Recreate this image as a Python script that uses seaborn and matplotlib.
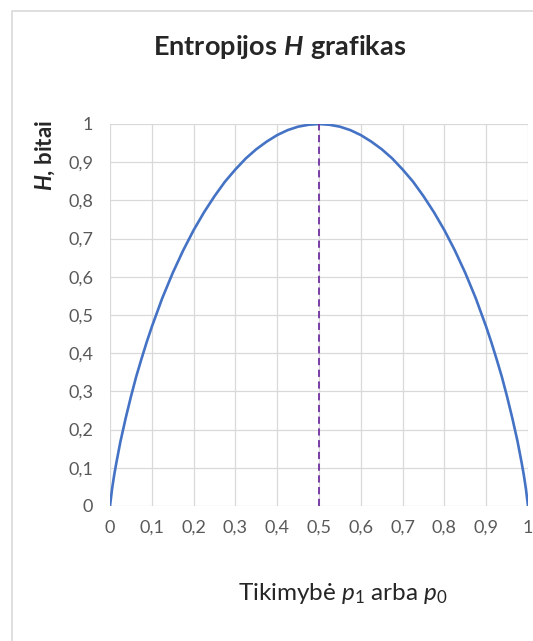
import matplotlib
matplotlib.use("Agg")
import matplotlib.pyplot as plt
import seaborn as sns
import pandas as pd
from matplotlib.lines import Line2D

# values
p = [0, 0.005, 0.01, 0.015, 0.025, 0.0375, 0.05, 0.0625, 0.075, 0.0875, 0.1,
     0.125, 0.15, 0.175, 0.2, 0.225, 0.25, 0.275, 0.3, 0.325, 0.35, 0.375,
     0.4, 0.425, 0.45, 0.475, 0.5,
     0.525, 0.55, 0.575, 0.6, 0.625, 0.65, 0.675, 0.7, 0.725, 0.75, 0.775,
     0.8, 0.825, 0.85, 0.875, 0.9, 0.9125, 0.925, 0.9375, 0.95, 0.9625,
     0.975, 0.985, 0.99, 0.995, 1]
h = [0, 0.045, 0.081, 0.112, 0.169, 0.230, 0.286, 0.338, 0.384, 0.428, 0.469,
     0.544, 0.610, 0.669, 0.722, 0.769, 0.811, 0.849, 0.881, 0.910, 0.934, 0.954,
     0.971, 0.984, 0.993, 0.998, 1.0,
     0.998, 0.993, 0.984, 0.971, 0.954, 0.934, 0.910, 0.881, 0.849, 0.811, 0.769,
     0.722, 0.669, 0.610, 0.544, 0.469, 0.428, 0.384, 0.338, 0.286, 0.230,
     0.169, 0.112, 0.081, 0.045, 0]
ticks = [0, 0.1, 0.2, 0.3, 0.4, 0.5, 0.6, 0.7, 0.8, 0.9, 1]
tick_labels = ["0", "0,1", "0,2", "0,3", "0,4", "0,5", "0,6", "0,7", "0,8", "0,9", "1"]
p_max = 0.5

df = pd.DataFrame({"p": p, "H": h})

sns.set_style("white")
plt.rcParams["font.family"] = ["Lato", "DejaVu Sans"]
plt.rcParams["mathtext.fontset"] = "custom"
plt.rcParams["mathtext.rm"] = "Lato"
plt.rcParams["mathtext.it"] = "Lato:italic"
plt.rcParams["mathtext.bf"] = "Lato:bold"
plt.rcParams["mathtext.bfit"] = "Lato:bold:italic"

fig = plt.figure(figsize=(5.33, 6.41), dpi=100)
ax = fig.add_axes([110 / 533, 1 - 506 / 641, 418 / 533, 382 / 641])

sns.lineplot(data=df, x="p", y="H", ax=ax, color="#4472C4", linewidth=1.9)
ax.plot([p_max, p_max], [0, 1], color="#7030A0", linestyle=(0, (4, 2.5)), linewidth=1.3)

ax.set_xlim(0, 1)
ax.set_ylim(0, 1)
ax.set_xticks(ticks)
ax.set_xticklabels(tick_labels)
ax.set_yticks(ticks)
ax.set_yticklabels(tick_labels)
ax.tick_params(axis="both", length=0, labelsize=13, colors="#595959")
ax.tick_params(axis="y", pad=12)
ax.tick_params(axis="x", pad=10)
ax.grid(True, color="#D9D9D9", linewidth=0.9)
ax.set_axisbelow(True)
for s in ax.spines.values():
    s.set_visible(False)
ax.set_xlabel("")
ax.set_ylabel("")

fig.text(280 / 533, 1 - 47 / 641, r"$\mathbf{Entropijos}\ \mathbfit{H}\ \mathbf{grafikas}$",
         ha="center", va="center", fontsize=19.5)
fig.text(45 / 533, 1 - 155 / 641, r"$\mathbfit{H}$, bitai", rotation=90,
         ha="center", va="center", fontsize=16, fontweight="bold")
fig.text(343 / 533, 1 - 593 / 641, r"Tikimybė $p_1$ arba $p_0$",
         ha="center", va="center", fontsize=17.5)

# chart frame (left and top edges visible)
fig.add_artist(Line2D([11.5 / 533, 11.5 / 533, 1], [0, 1 - 11 / 641, 1 - 11 / 641],
                      transform=fig.transFigure, color="#D9D9D9", linewidth=1.2))

fig.savefig("out.png", dpi=100)
